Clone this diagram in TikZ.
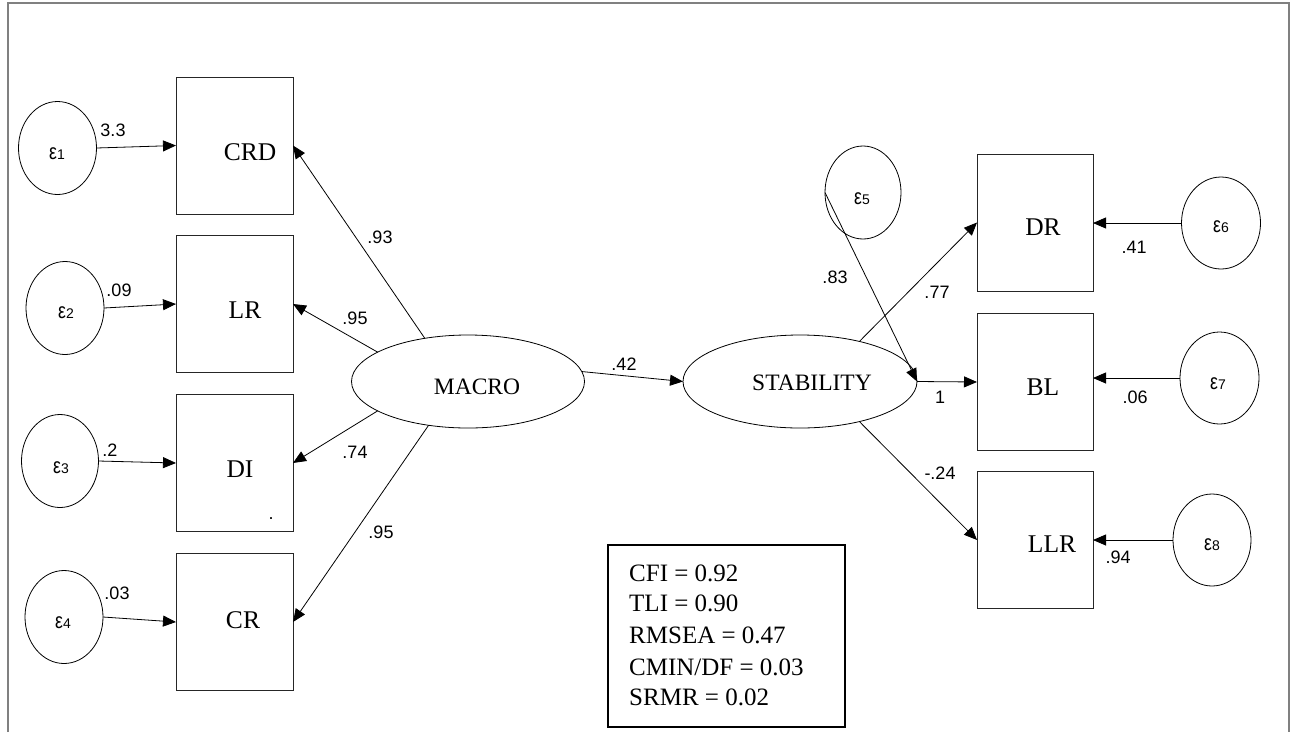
\documentclass[tikz,border=0pt]{standalone}
\usepackage{graphicx}
\usepackage{fontspec}
\setmainfont{Liberation Serif}
\newfontfamily\arialf{Liberation Sans}
\usetikzlibrary{arrows.meta,shapes.geometric}
\newcommand{\epsl}[1]{\scalebox{0.8}[1]{\fontsize{22}{22}\selectfont ε}{\fontsize{14}{14}\selectfont #1}}
\begin{document}
\begin{tikzpicture}[x=1pt,y=-1pt,
 box/.style={draw=black!85,line width=1pt,minimum width=117pt,minimum height=137pt,inner sep=0pt,outer sep=0pt},
 lat/.style={draw,ellipse,line width=0.8pt,inner sep=0pt,outer sep=0pt,minimum width=233pt,minimum height=93pt},
 err/.style={draw,ellipse,line width=0.8pt,inner sep=0pt,outer sep=0pt,minimum width=78pt,minimum height=93pt},
 btxt/.style={font=\fontsize{25.5}{30}\selectfont,inner sep=0pt},
 ltxt/.style={font=\fontsize{23.5}{28}\selectfont,inner sep=0pt},
 stxt/.style={font=\fontsize{25}{30}\selectfont,inner sep=0pt,anchor=base west},
 etxt/.style={font=\arialf,inner sep=0pt},
 num/.style={font=\arialf\fontsize{18}{20}\selectfont,inner sep=0pt},
 arr/.style={line width=0.8pt,-{Triangle[length=13pt,width=11pt]}},
 ]
\useasboundingbox (0,0) rectangle (1291,732);
% frame
\draw[gray,line width=1.5pt] (8,732) -- (8,3) -- (1289,3) -- (1289,732);

% observed boxes (left)
\node[box] (crd) at (234.5,145.5) {};
\node[box] (lr)  at (234.5,304) {};
\node[box] (di)  at (234.5,463) {};
\node[box] (cr)  at (234.5,622) {};
\node[btxt] (crdt) at (250,152) {CRD};
\node[btxt] (lrt)  at (245,310) {LR};
\node[btxt] (dit)  at (240,469) {DI};
\node[btxt] (crt)  at (243,620) {CR};
\node[num] (dot) at (271,519) {.};

% observed boxes (right)
\node[box,minimum width=116pt] (dr)  at (1035,222.5) {};
\node[box,minimum width=116pt] (bl)  at (1035,382) {};
\node[box,minimum width=116pt] (llr) at (1035,540) {};
\node[btxt] (drt)  at (1043,227) {DR};
\node[btxt] (blt)  at (1043,387) {BL};
\node[btxt] (llrt) at (1052,544) {LLR};

% latent
\node[lat] (macro) at (468,381.5) {};
\node[lat,minimum width=234pt] (stab) at (800,381.5) {};
\node[ltxt] (macrot) at (477,387) {MACRO};
\node[ltxt] (stabt) at (812,383) {STABILITY};

% errors
\node[err] (e1) at (57.5,148) {};
\node[err] (e2) at (65,308) {};
\node[err,minimum width=77pt] (e3) at (60,461) {};
\node[err] (e4) at (64,617) {};
\node[err,minimum width=76pt] (e5) at (863,192.5) {};
\node[err,minimum width=79pt,minimum height=92pt] (e6) at (1221,223) {};
\node[err,minimum width=79pt,minimum height=92pt] (e7) at (1219.5,378) {};
\node[err,minimum height=92pt] (e8) at (1212,540) {};
\node[etxt] (e1t) at (57,154) {\epsl{1}};
\node[etxt] (e2t) at (66,313) {\epsl{2}};
\node[etxt] (e3t) at (61,468) {\epsl{3}};
\node[etxt] (e4t) at (63,623) {\epsl{4}};
\node[etxt] (e5t) at (862,199) {\epsl{5}};
\node[etxt] (e6t) at (1221,227) {\epsl{6}};
\node[etxt] (e7t) at (1218,384) {\epsl{7}};
\node[etxt] (e8t) at (1212,545) {\epsl{8}};

% connectors left
\draw[arr] (e1.east) -- (crd.west);
\draw[arr] (e2.east) -- (lr.west);
\draw[arr] (e3.east) -- (di.west);
\draw[arr] (e4.east) -- (cr.west);
\draw[arr] (macro.135) -- (crd.east);
\draw[arr] (macro.162) -- (lr.east);
\draw[arr] (macro.198) -- (di.east);
\draw[arr] (macro.228) -- (cr.east);
\draw[arr] (macro.5) -- (stab.west);
% connectors right
\draw[arr] (stab.34) -- (dr.west);
\draw[arr] (stab.east) -- (bl.west);
\draw[arr] (stab.-34) -- (llr.west);
\draw[arr] (e5.west) -- (stab.east);
\draw[arr] (e6.west) -- (e6.west -| dr.east);
\draw[arr] (e7.west) -- (e7.west -| bl.east);
\draw[arr] (e8.west) -- (e8.west -| llr.east);

% path labels
\node[num] (l1) at (113,130) {3.3};
\node[num] (l2) at (119,290) {.09};
\node[num] (l3) at (110,450) {.2};
\node[num] (l4) at (117,593) {.03};
\node[num] (l5) at (380,237) {.93};
\node[num] (l6) at (355,318) {.95};
\node[num] (l7) at (355,452) {.74};
\node[num] (l8) at (381,532) {.95};
\node[num] (l9) at (624,364) {.42};
\node[num] (l10) at (835,277) {.83};
\node[num] (l11) at (937,292) {.77};
\node[num] (l12) at (940,397) {1};
\node[num] (l13) at (940,473) {-.24};
\node[num] (l14) at (1134,247) {.41};
\node[num] (l15) at (1135,397) {.06};
\node[num] (l16) at (1118,557) {.94};

% fit statistics
\node[draw,line width=1.5pt,minimum width=237pt,minimum height=182pt,inner sep=0pt] (stats) at (726.5,636) {};
\node[stxt] (s1) at (629,581) {CFI = 0.92};
\node[stxt] (s2) at (629,611) {TLI = 0.90};
\node[stxt] (s3) at (629,643) {RMSEA = 0.47};
\node[stxt] (s4) at (629,675) {CMIN/DF = 0.03};
\node[stxt] (s5) at (629,705) {SRMR = 0.02};
\end{tikzpicture}
\end{document}
